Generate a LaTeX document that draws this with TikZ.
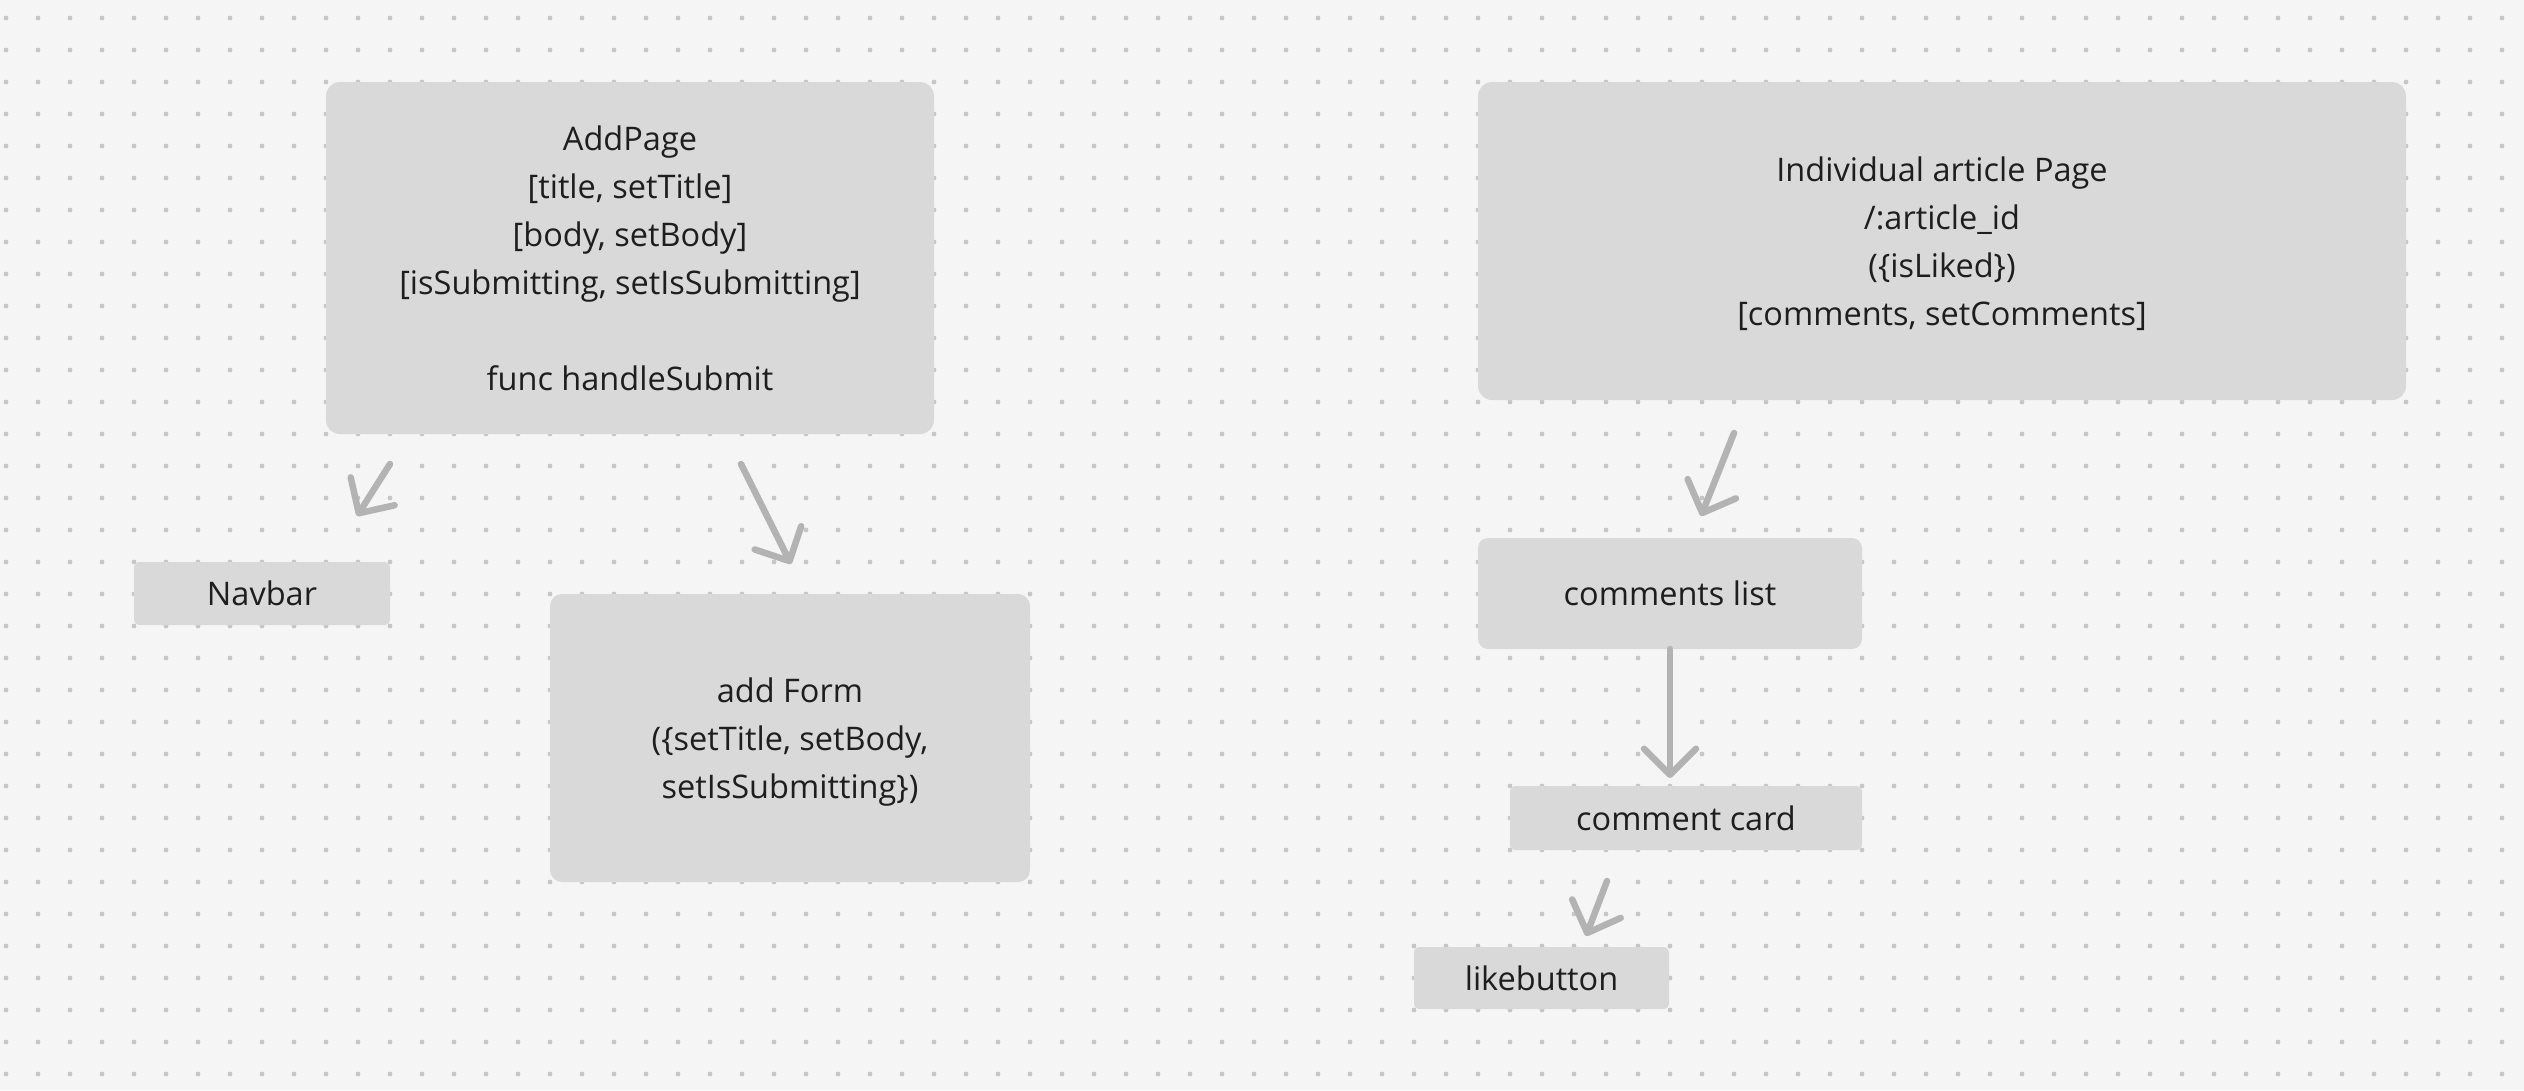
\documentclass[tikz,border=0pt]{standalone}
\usepackage{fontspec}
\setmainfont{Open Sans}
\usetikzlibrary{arrows.meta}
\definecolor{bg}{HTML}{F5F5F5}
\definecolor{dotc}{HTML}{C6C6C6}
\definecolor{boxc}{HTML}{D9D9D9}
\definecolor{arrc}{HTML}{B3B3B3}
\definecolor{txt}{HTML}{1E1E1E}
\begin{document}
\begin{tikzpicture}[x=1pt,y=-1pt,
  box/.style={fill=boxc, draw=none, inner sep=0pt, text=txt, align=center,
    font=\fontsize{32.5}{48}\selectfont},
  multi/.style={text depth=0pt},
  conn/.style={draw=arrc, line width=6.5pt, line cap=round,
    -{Straight Barb[length=26pt,width=52pt,round]}}]
\useasboundingbox (0,0) rectangle (2524,1090);
\fill[bg] (0,0) rectangle (2524,1090);
\foreach \i in {0,...,78}{
  \foreach \j in {0,...,33}{
    \fill[dotc] ({6+32*\i},{18+32*\j}) circle (2.4pt);
  }
}
% boxes
\node[box, multi, minimum width=608pt, minimum height=352pt, rounded corners=14pt] (addpage) at (630,258)
  {AddPage\\{[title, setTitle]}\\{[body, setBody]}\\{[isSubmitting, setIsSubmitting]}\\[48pt]func handleSubmit};
\node[box, minimum width=256pt, minimum height=63pt, rounded corners=5pt] (navbar) at (262,593.5) {Navbar};
\node[box, multi, minimum width=480pt, minimum height=288pt, rounded corners=12pt] (addform) at (790,738)
  {add Form\\(\{setTitle, setBody,\\setIsSubmitting\})};
\node[box, multi, minimum width=928pt, minimum height=318pt, rounded corners=14pt] (article) at (1942,241)
  {Individual article Page\\/:article\_id\\(\{isLiked\})\\{[comments, setComments]}};
\node[box, minimum width=384pt, minimum height=111pt, rounded corners=10pt] (clist) at (1670,593.5) {comments list};
\node[box, minimum width=352pt, minimum height=64pt, rounded corners=5pt] (ccard) at (1686,818) {comment card};
\node[box, minimum width=255pt, minimum height=62pt, rounded corners=5pt] (like) at (1541.5,978) {likebutton};
% arrow end points
\coordinate (a1s) at (390,464);  \coordinate (a1e) at (357,516);
\coordinate (a2s) at (741,464);  \coordinate (a2e) at (791,564);
\coordinate (a3s) at (1734,433); \coordinate (a3e) at (1701,516);
\coordinate (a4s) at (1670,649); \coordinate (a4e) at (1670,778);
\coordinate (a5s) at (1607,881); \coordinate (a5e) at (1586,936);
\draw[conn] (a1s) -- (a1e);
\draw[conn] (a2s) -- (a2e);
\draw[conn] (a3s) -- (a3e);
\draw[conn] (a4s) -- (a4e);
\draw[conn] (a5s) -- (a5e);
\end{tikzpicture}
\end{document}
